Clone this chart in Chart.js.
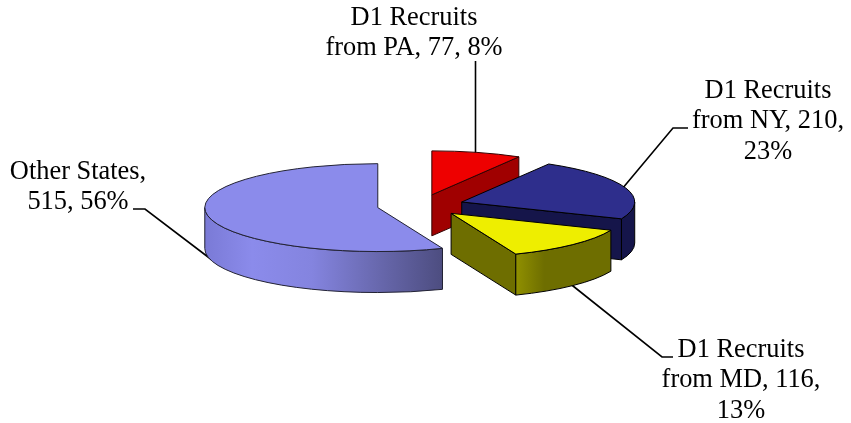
<!DOCTYPE html>
<html>
<head>
<meta charset="utf-8">
<title>D1 Recruits</title>
<script src="https://cdn.jsdelivr.net/npm/chart.js@4"></script>
<style>
  html, body { margin: 0; padding: 0; background: #fff; }
  canvas { display: block; }
</style>
</head>
<body>
<canvas id="pieChart" width="851" height="423"></canvas>
<script>
// values
const categories = ["D1 Recruits from PA", "D1 Recruits from NY", "D1 Recruits from MD", "Other States"];
const recruits = [77, 210, 116, 515];
const labelLines = [
  ["D1 Recruits", "from PA, 77, 8%"],
  ["D1 Recruits", "from NY, 210,", "23%"],
  ["D1 Recruits", "from MD, 116,", "13%"],
  ["Other States,", "515, 56%"]
];

// colours
const topColors = ["#EE0000", "#2E2E8C", "#EEEE00", "#8B8BEB"];
const cutColors = ["#A00000", "#15154A", "#6E6E00", "#6E6EB8"];
const rimStops = [
  [[0, "#A00000"], [1, "#A00000"]],
  [[0, "#15154A"], [1, "#15154A"]],
  [[0, "#909000"], [0.3, "#6E6E00"], [1, "#6E6E00"]],
  [[0, "#7A7AD6"], [0.2, "#8B8BEB"], [0.45, "#8484DF"], [0.75, "#6666AA"], [1, "#4D4D80"]]
];
const edgeColors = ["#300", "#000", "#000", "#223"];

// label placement: centre x, first baseline
const labelX = [414, 768, 741, 78];
const labelY = [25, 98, 357, 179];
const lineHeight = 30.3;
const leaders = [
  [[475.5, 61], [475.5, 154]],
  [[688, 128], [673, 128], [622, 189]],
  [[673, 357], [662, 357], [568, 282]],
  [[133, 209], [145, 209], [212, 260]]
];

const squash = 0.254;
const depth = 41;
const explode = 43.5;

function topOffset(arc) {
  const mid = (arc.startAngle + arc.endAngle) / 2;
  return { x: Math.cos(mid) * explode, y: Math.sin(mid) * explode * squash };
}

function drawCut(ctx, arc, off, angle, color, edge) {
  const r = arc.outerRadius;
  const x0 = arc.x + off.x, y0 = arc.y + off.y;
  const x1 = x0 + Math.cos(angle) * r, y1 = y0 + Math.sin(angle) * r * squash;
  ctx.beginPath();
  ctx.moveTo(x0, y0);
  ctx.lineTo(x1, y1);
  ctx.lineTo(x1, y1 + depth);
  ctx.lineTo(x0, y0 + depth);
  ctx.closePath();
  ctx.fillStyle = color;
  ctx.fill();
  ctx.strokeStyle = edge;
  ctx.lineWidth = 1;
  ctx.stroke();
}

function drawRim(ctx, arc, off, stops, edge) {
  // only the part of the rim that faces the viewer
  const a = Math.max(arc.startAngle, 0);
  const b = Math.min(arc.endAngle, Math.PI);
  if (b <= a) return;
  const r = arc.outerRadius;
  const x0 = arc.x + off.x, y0 = arc.y + off.y;
  const left = x0 + r * Math.cos(b), right = x0 + r * Math.cos(a);
  const grad = ctx.createLinearGradient(left, 0, right, 0);
  stops.forEach(function (s) { grad.addColorStop(s[0], s[1]); });
  ctx.beginPath();
  ctx.ellipse(x0, y0, r, r * squash, 0, a, b);
  ctx.ellipse(x0, y0 + depth, r, r * squash, 0, b, a, true);
  ctx.closePath();
  ctx.fillStyle = grad;
  ctx.fill();
  ctx.strokeStyle = edge;
  ctx.lineWidth = 1;
  ctx.stroke();
}

function drawTop(ctx, arc, off, edge) {
  // the library's own arc, flattened
  ctx.save();
  ctx.translate(off.x, arc.y + off.y);
  ctx.scale(1, squash);
  ctx.translate(0, -arc.y);
  arc.draw(ctx);
  ctx.restore();
  const x0 = arc.x + off.x, y0 = arc.y + off.y;
  ctx.beginPath();
  ctx.moveTo(x0, y0);
  ctx.ellipse(x0, y0, arc.outerRadius, arc.outerRadius * squash, 0, arc.startAngle, arc.endAngle);
  ctx.closePath();
  ctx.strokeStyle = edge;
  ctx.lineWidth = 1;
  ctx.stroke();
}

const pie3d = {
  id: "pie3d",
  beforeDatasetDraw: function (chart) {
    const ctx = chart.ctx;
    const arcs = chart.getDatasetMeta(0).data;

    // leader lines go under the pie
    ctx.strokeStyle = "#000";
    ctx.lineWidth = 1.6;
    leaders.forEach(function (pts) {
      ctx.beginPath();
      pts.forEach(function (p, i) {
        if (i === 0) ctx.moveTo(p[0], p[1]); else ctx.lineTo(p[0], p[1]);
      });
      ctx.stroke();
    });

    // back slices first
    const order = arcs.map(function (a, i) { return i; });
    order.sort(function (i, j) { return topOffset(arcs[i]).y - topOffset(arcs[j]).y; });
    order.forEach(function (i) {
      const arc = arcs[i];
      const off = topOffset(arc);
      if (Math.cos(arc.startAngle) < -0.001) drawCut(ctx, arc, off, arc.startAngle, cutColors[i], edgeColors[i]);
      if (Math.cos(arc.endAngle) > 0.001) drawCut(ctx, arc, off, arc.endAngle, cutColors[i], edgeColors[i]);
      drawRim(ctx, arc, off, rimStops[i], edgeColors[i]);
      drawTop(ctx, arc, off, edgeColors[i]);
    });

    // data labels
    ctx.fillStyle = "#000";
    ctx.font = '26.4px "Liberation Serif", "Times New Roman", serif';
    ctx.textAlign = "center";
    ctx.textBaseline = "alphabetic";
    labelLines.forEach(function (lines, i) {
      lines.forEach(function (line, n) {
        ctx.fillText(line, labelX[i], labelY[i] + n * lineHeight);
      });
    });
    return false;
  }
};

new Chart(document.getElementById("pieChart").getContext("2d"), {
  type: "pie",
  data: {
    labels: categories,
    datasets: [{
      data: recruits,
      backgroundColor: topColors,
      borderWidth: 0
    }]
  },
  options: {
    responsive: false,
    animation: false,
    radius: 173,
    layout: { padding: { left: 0, top: 0, right: 10, bottom: 12 } },
    plugins: {
      legend: { display: false },
      tooltip: { enabled: false }
    }
  },
  plugins: [pie3d]
});
</script>
</body>
</html>
